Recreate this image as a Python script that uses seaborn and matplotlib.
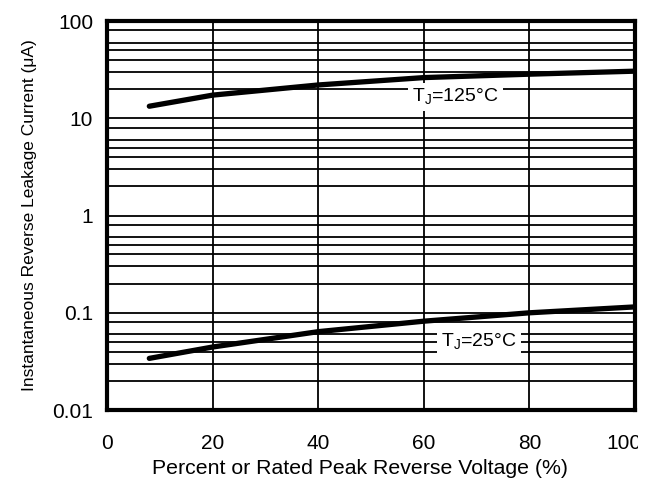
import matplotlib
matplotlib.use("Agg")
import matplotlib.pyplot as plt
import matplotlib.ticker as mticker
from matplotlib.transforms import Bbox, TransformedBbox, ScaledTranslation
import numpy as np
import pandas as pd
import seaborn as sns

# ---- data ----
voltage_125 = [8, 20, 40, 60, 80, 100]
current_125 = [13.3, 17.3, 22.0, 26.2, 28.4, 30.5]
voltage_25 = [8, 20, 40, 60, 80, 100]
current_25 = [0.034, 0.0445, 0.064, 0.082, 0.100, 0.115]
series_names = ["125", "25"]
label_125 = "T$_\\mathregular{J}$=125°C"
label_25 = "T$_\\mathregular{J}$=25°C"
x_ticks = [0, 20, 40, 60, 80, 100]
y_ticks = [0.01, 0.1, 1, 10, 100]
y_tick_labels = ["0.01", "0.1", "1", "10", "100"]
minor_mults = [2, 3, 4, 5, 6, 8]

df = pd.DataFrame({
    "V": voltage_125 + voltage_25,
    "I": current_125 + current_25,
    "T": [series_names[0]] * len(voltage_125) + [series_names[1]] * len(voltage_25),
})

sns.set_style("white")
plt.rcParams["font.family"] = ["Liberation Sans", "DejaVu Sans"]
plt.rcParams["mathtext.fontset"] = "custom"
plt.rcParams["mathtext.rm"] = "Liberation Sans"
plt.rcParams["text.color"] = "black"
plt.rcParams["axes.labelcolor"] = "black"
plt.rcParams["xtick.labelcolor"] = "black"
plt.rcParams["ytick.labelcolor"] = "black"

fig = plt.figure(figsize=(6.57, 4.83), dpi=100)
L, R, B, T = 0.163, 0.9665, 0.151, 0.9565
ax = fig.add_axes([L, B, R - L, T - B])

sns.lineplot(data=df, x="V", y="I", hue="T", palette=["black", "black"],
             linewidth=3.8, legend=False, ax=ax, zorder=3, solid_capstyle="round")

ax.set_yscale("log")
ax.set_xlim(0, 100)
ax.set_ylim(0.01, 100)

ax.xaxis.set_major_locator(mticker.FixedLocator(x_ticks))
ax.set_xticklabels([str(t) for t in x_ticks])
ax.yaxis.set_major_locator(mticker.FixedLocator(y_ticks))
ax.yaxis.set_major_formatter(mticker.FixedFormatter(y_tick_labels))
minor = [m * d for d in [0.01, 0.1, 1, 10] for m in minor_mults]
ax.yaxis.set_minor_locator(mticker.FixedLocator(minor))
ax.yaxis.set_minor_formatter(mticker.NullFormatter())

ax.grid(True, which="both", axis="y", color="black", linewidth=1.3)
ax.grid(True, which="major", axis="x", color="black", linewidth=1.3)
ax.set_axisbelow(True)

ax.tick_params(axis="both", which="both", length=0, labelcolor="black")
ax.tick_params(axis="x", labelsize=15, pad=17)
ax.tick_params(axis="y", labelsize=15, pad=10)

for s in ax.spines.values():
    s.set_visible(True)
    s.set_color("black")
    s.set_linewidth(3)

ax.set_xlabel("Percent or Rated Peak Reverse Voltage (%)", fontsize=15.3, va="center",
              color="black")
ax.xaxis.set_label_coords((360 - 107) / 528, -(468 - 410) / 388)
ax.set_ylabel("Instantaneous Reverse Leakage Current (μA)", fontsize=12.5, labelpad=11,
              color="black")

box = dict(facecolor="white", edgecolor="none", pad=3)
ax.text(66, 16.5, label_125, fontsize=14, ha="center", va="center", bbox=box, zorder=4,
        color="black")
ax.text(70.5, 0.050, label_25, fontsize=14, ha="center", va="center", bbox=box, zorder=4,
        color="black")

# the last x tick label is shifted left and cut at the right frame in the reference
clip = TransformedBbox(Bbox.from_extents(0, 0, R + 0.004, 1), fig.transFigure)
last = ax.xaxis.get_major_ticks()[-1]
last.label1.set_transform(last.label1.get_transform()
                          + ScaledTranslation(-0.11, 0, fig.dpi_scale_trans))
last.label1.set_clip_on(True)
last.label1.set_clip_box(clip)

fig.savefig("out.png", dpi=100)
